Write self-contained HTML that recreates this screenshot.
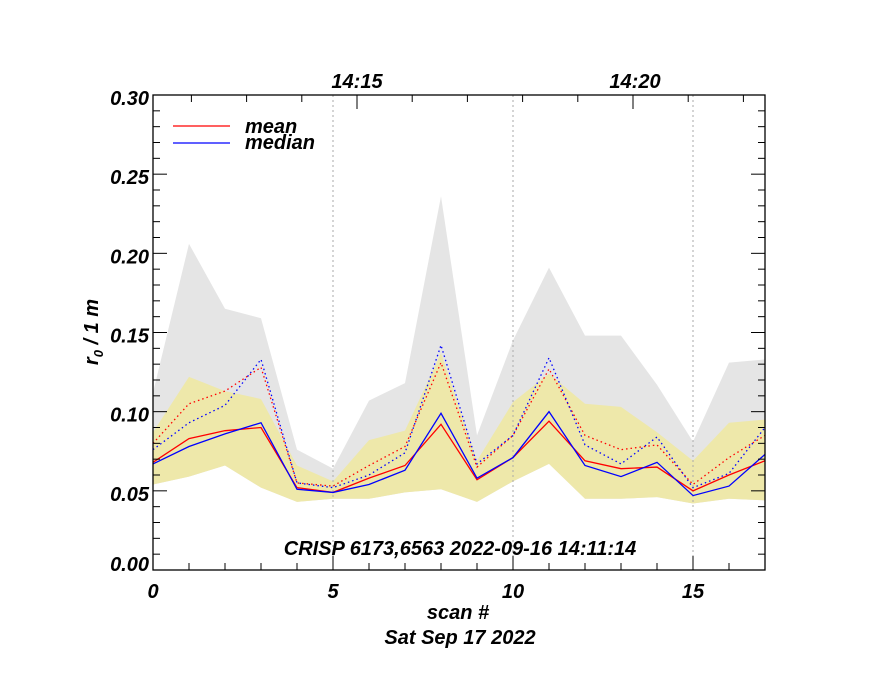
<!DOCTYPE html>
<html><head><meta charset="utf-8"><style>
body{margin:0;background:#fff}
svg text{font-family:"Liberation Sans",sans-serif;font-weight:bold;font-style:italic;fill:#000}
</style></head><body>
<svg id="chart" width="880" height="680" xmlns="http://www.w3.org/2000/svg">
<g id="bands"></g>
<g id="grid"></g>
<g id="series"></g>
<g id="axes"></g>
<text x="357" y="88" font-size="20" text-anchor="middle">14:15</text>
<text x="635" y="88" font-size="20" text-anchor="middle">14:20</text>
<g>
<line x1="173" y1="126" x2="230" y2="126" stroke="#f00" stroke-width="1.3"/>
<text x="245" y="133" font-size="20">mean</text>
<line x1="173" y1="143" x2="230" y2="143" stroke="#00f" stroke-width="1.3"/>
<text x="245" y="149" font-size="20">median</text>
</g>
<text x="460" y="555" font-size="20" text-anchor="middle">CRISP 6173,6563 2022-09-16 14:11:14</text>
<text x="458" y="619" font-size="20" text-anchor="middle">scan #</text>
<text x="460" y="644" font-size="20" text-anchor="middle">Sat Sep 17 2022</text>
<text transform="translate(98,332) rotate(-90)" font-size="20" text-anchor="middle">r<tspan font-size="13" dy="5">0</tspan><tspan dy="-5"> / 1 m</tspan></text>
</svg>
<script>
const scans=[0,1,2,3,4,5,6,7,8,9,10,11,12,13,14,15,16,17];
const grayUpper=[0.112,0.206,0.165,0.159,0.076,0.064,0.107,0.118,0.236,0.085,0.145,0.191,0.148,0.148,0.117,0.081,0.131,0.133];
const yellowUpper=[0.087,0.122,0.113,0.108,0.066,0.056,0.082,0.088,0.137,0.069,0.106,0.124,0.105,0.103,0.087,0.069,0.093,0.095];
const yellowLower=[0.054,0.059,0.066,0.052,0.043,0.045,0.045,0.049,0.051,0.043,0.056,0.067,0.045,0.045,0.046,0.042,0.045,0.044];
const meanSolid=[0.068,0.083,0.088,0.090,0.052,0.049,0.058,0.066,0.092,0.057,0.071,0.094,0.069,0.064,0.065,0.050,0.060,0.069];
const medianSolid=[0.067,0.078,0.086,0.093,0.051,0.049,0.054,0.063,0.099,0.058,0.071,0.100,0.066,0.059,0.068,0.047,0.053,0.073];
const meanDotted=[0.080,0.105,0.113,0.128,0.055,0.053,0.066,0.078,0.131,0.065,0.085,0.127,0.085,0.076,0.079,0.054,0.071,0.085];
const medianDotted=[0.076,0.093,0.104,0.133,0.055,0.052,0.060,0.074,0.142,0.067,0.085,0.134,0.079,0.067,0.084,0.052,0.061,0.090];
const yTicks=[0,0.05,0.10,0.15,0.20,0.25,0.30];
const yTickLabels=["0.00","0.05","0.10","0.15","0.20","0.25","0.30"];
const xTicks=[0,5,10,15];
const gridScans=[5,10,15];

const X0=153,X1=765,Y0=570,Y1=95;
const sx=v=>X0+(v-0)/17*(X1-X0);
const sy=v=>Y0-(v-0)/0.30*(Y0-Y1);
const NS="http://www.w3.org/2000/svg";
function mk(t,a,p){const e=document.createElementNS(NS,t);for(const k in a)e.setAttribute(k,a[k]);p.appendChild(e);return e;}
const bands=document.getElementById('bands'),grid=document.getElementById('grid'),ser=document.getElementById('series'),axes=document.getElementById('axes');
function area(up,lo,fill,name){
  let d=scans.map((s,i)=>(i?'L':'M')+sx(s)+','+sy(up[i])).join(' ');
  for(let i=scans.length-1;i>=0;i--)d+=' L'+sx(scans[i])+','+sy(lo[i]);
  const p=mk('path',{d:d+'Z',fill:fill},bands);
  
  
}
area(grayUpper,yellowLower,'#e5e5e5','range-band');
area(yellowUpper,yellowLower,'#eee8aa','iqr-band');
gridScans.forEach(g=>{
  const l=mk('line',{x1:sx(g),x2:sx(g),y1:Y1,y2:Y0,stroke:'#aaa','stroke-dasharray':'2,3','stroke-width':1},grid);
  
  
});
function line(vals,color,dash,name){
  const p=mk('polyline',{points:scans.map((s,i)=>sx(s)+','+sy(vals[i])).join(' '),fill:'none',stroke:color,'stroke-width':1.3},ser);
  if(dash)p.setAttribute('stroke-dasharray','1.5,3');
  
  
}
line(meanDotted,'#f00',true,'mean-dotted-line');
line(medianDotted,'#00f',true,'median-dotted-line');
line(meanSolid,'#f00',false,'mean-line');
line(medianSolid,'#00f',false,'median-line');
const fr=mk('rect',{x:X0,y:Y1,width:X1-X0,height:Y0-Y1,fill:'none',stroke:'#000','stroke-width':1.3},axes);


for(let k=0;k<=30;k++){
  const v=k/100,y=sy(v),len=(k%5===0)?14:7;
  mk('line',{x1:X0,x2:X0+len,y1:y,y2:y,stroke:'#000'},axes);
  mk('line',{x1:X1,x2:X1-len,y1:y,y2:y,stroke:'#000'},axes);
}
yTicks.forEach((v,i)=>{
  let y=sy(v)+10; if(i===0)y=sy(v)+1;
  const t=mk('text',{x:X0-4,y:y,'font-size':20,'text-anchor':'end'},axes);
  t.textContent=yTickLabels[i];
  
  
});
scans.forEach(s=>{
  const len=(s%5===0)?14:7;
  mk('line',{x1:sx(s),x2:sx(s),y1:Y0,y2:Y0-len,stroke:'#000'},axes);
});
xTicks.forEach(v=>{
  const t=mk('text',{x:sx(v),y:598,'font-size':20,'text-anchor':'middle'},axes);
  t.textContent=String(v);
  
  
});
for(let k=-3;k<=7;k++){
  const x=357+k*55.2; if(x<X0||x>X1)continue;
  const len=(k===0||k===5)?14:7;
  mk('line',{x1:x,x2:x,y1:Y1,y2:Y1+len,stroke:'#000'},axes);
}
</script>
</body></html>
